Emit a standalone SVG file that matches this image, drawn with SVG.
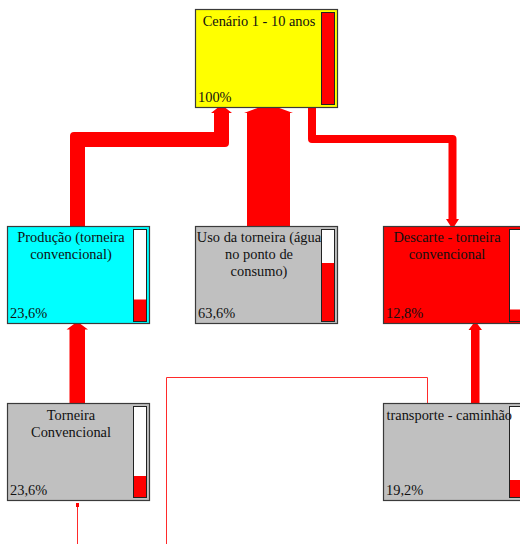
<svg xmlns="http://www.w3.org/2000/svg" width="520" height="544" viewBox="0 0 520 544">
<defs>
<style>
.node{stroke:#3a3a3a;stroke-width:1.2}
.bar{fill:#ffffff;stroke:#222;stroke-width:1}
.lvl{fill:#ff0000}
.t{font-family:"Liberation Serif","Times New Roman",serif;font-size:14.4px;fill:#111}
.c{text-anchor:middle}
.flow{fill:#ff0000}
.thin{fill:none;stroke:#ff2a2a;stroke-width:1}
</style>
</defs>
<rect width="520" height="544" fill="#ffffff"/>
<g id="connectors">
<path class="flow" d="M70,226.5 V136 Q70,132 74,132 H214 V113 H211 L218,107.5 H225 L232,113 H229 V143 Q229,147 225,147 H85 V226.5 Z"/>
<path class="flow" d="M247,226.5 V113 H244 L259,107.5 H278 L293,113 H290 V226.5 Z"/>
<path class="flow" d="M308,107.5 H316 V135 H452.5 Q456.5,135 456.5,139 V219 H459 L454.5,226 H450.5 L446,219 H448.5 V143 H312 Q308,143 308,139 Z"/>
<path class="flow" d="M69.5,403.5 V329.5 H66.5 L74,324 H80.5 L88,329.5 H85 V403.5 Z"/>
<path class="flow" d="M471,403.5 V330 H468.5 L473,324 H477.5 L482,330 H479.5 V403.5 Z"/>
<path class="thin" d="M77.5,544 V504"/>
<rect x="76" y="503" width="3" height="4" fill="#ff0000"/>
<path class="thin" d="M166.5,544 V377.5 H427.5 V403.5"/>
</g>
<g id="node-cenario">
<rect class="node" x="195.5" y="9.5" width="142" height="98" fill="#ffff00"/>
<rect class="bar" x="321.5" y="12.5" width="13" height="92"/>
<rect class="lvl" x="322" y="13" width="12" height="91"/>
<text class="t c" x="259" y="26">Cenário 1 - 10 anos</text>
<text class="t" x="198" y="102">100%</text>
</g>
<g id="node-producao">
<rect class="node" x="7.5" y="226.5" width="142" height="97" fill="#00ffff"/>
<rect class="bar" x="133.5" y="229.5" width="13" height="92"/>
<rect class="lvl" x="134" y="299.5" width="12" height="21.5"/>
<text class="t c" x="71" y="242">Produção (torneira</text>
<text class="t c" x="71" y="259">convencional)</text>
<text class="t" x="10" y="318">23,6%</text>
</g>
<g id="node-uso">
<rect class="node" x="195.5" y="226.5" width="142" height="97" fill="#c0c0c0"/>
<rect class="bar" x="321.5" y="229.5" width="13" height="92"/>
<rect class="lvl" x="322" y="263" width="12" height="58"/>
<text class="t c" x="259" y="242">Uso da torneira (água</text>
<text class="t c" x="259" y="259">no ponto de</text>
<text class="t c" x="259" y="276">consumo)</text>
<text class="t" x="198" y="318">63,6%</text>
</g>
<g id="node-descarte">
<rect class="node" x="383.5" y="226.5" width="142" height="97" fill="#ff0000"/>
<rect class="bar" x="509.5" y="229.5" width="13" height="92"/>
<rect class="lvl" x="510" y="309.5" width="12" height="11.5"/>
<text class="t c" x="447" y="242">Descarte - torneira</text>
<text class="t c" x="447" y="259">convencional</text>
<text class="t" x="386" y="318">12,8%</text>
</g>
<g id="node-torneira">
<rect class="node" x="7.5" y="403.5" width="142" height="97" fill="#c0c0c0"/>
<rect class="bar" x="133.5" y="406.5" width="13" height="91"/>
<rect class="lvl" x="134" y="476" width="12" height="21"/>
<text class="t c" x="71" y="420">Torneira</text>
<text class="t c" x="71" y="437">Convencional</text>
<text class="t" x="10" y="495">23,6%</text>
</g>
<g id="node-transporte">
<rect class="node" x="383.5" y="403.5" width="142" height="97" fill="#c0c0c0"/>
<rect class="bar" x="509.5" y="406.5" width="13" height="91"/>
<rect class="lvl" x="510" y="480" width="12" height="17"/>
<text class="t" x="386.5" y="420">transporte - caminhão</text>
<text class="t" x="386" y="495">19,2%</text>
</g>
</svg>
